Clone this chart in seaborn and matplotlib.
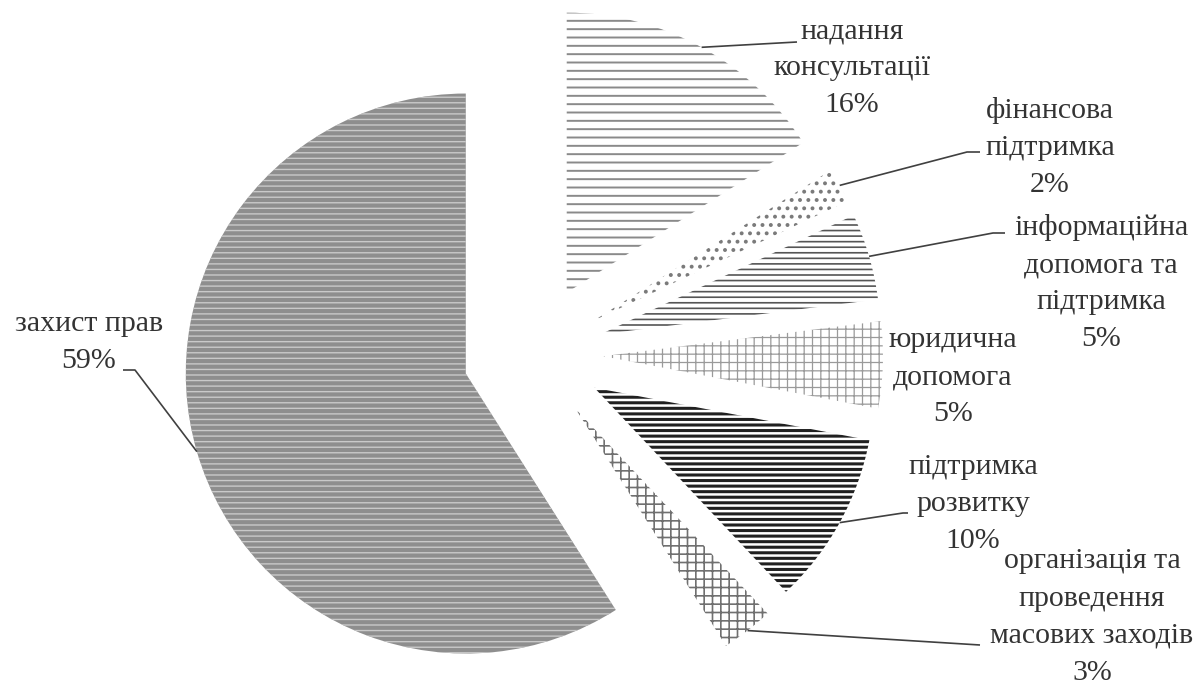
import matplotlib
matplotlib.use("Agg")
import matplotlib.pyplot as plt
import seaborn as sns
import numpy as np

# ---- data ----
categories = ["надання\nконсультації", "фінансова\nпідтримка",
              "інформаційна\nдопомога та\nпідтримка", "юридична\nдопомога",
              "підтримка\nрозвитку", "організація та\nпроведення\nмасових заходів",
              "захист прав"]
shares = [16, 2, 5, 5, 10, 3, 59]

# ---- styles ----
face_colors = ["white", "white", "white", "white", "white", "white", "#8e8e8e"]
hatch_colors = ["#8a8a8a", "#7a7a7a", "#555555", "#9a9a9a", "#202020", "#707070", "#c9c9c9"]
hatches = ["--", "..", "---", "++", "---", "++", "---"]
hatch_widths = [1.4, 1.6, 1.2, 0.9, 2.2, 1.2, 1.0]

# layout (pixels in a 1204x686 canvas)
W, H = 1204, 686
CX, CY, R = 533, 354, 280          # pie centre and radius in pixels
label_px = [(852, 68), (1050, 147), (1101, 283), (953, 377),
            (973, 504), (1092, 617), (89, 342)]
leader_px = [[(797, 42)],
             [(967, 152), (980, 152)],
             [(993, 233), (1005, 233)],
             None,
             [(903, 513), (908, 513)],
             [(980, 645)],
             [(135, 370), (123, 370)]]


def px2data(p):
    return ((p[0] - CX) / R, (CY - p[1]) / R)


sns.set_theme(style="white")
plt.rcParams["font.family"] = ["Liberation Serif", "DejaVu Serif"]
plt.rcParams["hatch.linewidth"] = 1.2

fig = plt.figure(figsize=(W / 100, H / 100), dpi=100)
ax = fig.add_axes([0, 0, 1, 1])

wedges, _ = ax.pie(shares, startangle=90, counterclock=False,
                   explode=[0.25] * len(shares), radius=1,
                   colors=face_colors,
                   wedgeprops=dict(linewidth=0))

for w, ec, hc, hw in zip(wedges, hatch_colors, hatches, hatch_widths):
    w.set_edgecolor(ec)
    w.set_hatch(hc)
    w.set_linewidth(0)
    if hasattr(w, "set_hatch_linewidth"):
        w.set_hatch_linewidth(hw)

text_color = "#333333"
for w, name, v, lp, lead in zip(wedges, categories, shares, label_px, leader_px):
    tx, ty = px2data(lp)
    ax.text(tx, ty, f"{name}\n{v}%", ha="center", va="center",
            multialignment="center", fontsize=21.5, color=text_color,
            linespacing=1.55)
    if lead is None:
        continue
    mid = np.deg2rad((w.theta1 + w.theta2) / 2)
    ax0 = w.center[0] + w.r * np.cos(mid)
    ay0 = w.center[1] + w.r * np.sin(mid)
    pts = [(ax0, ay0)] + [px2data(p) for p in lead]
    xs, ys = zip(*pts)
    ax.plot(xs, ys, color="#404040", lw=1.2, solid_capstyle="butt")

ax.set_xlim(-CX / R, (W - CX) / R)
ax.set_ylim(-(H - CY) / R, CY / R)
ax.set_aspect("auto")
ax.axis("off")

fig.savefig("out.png", dpi=100, facecolor="white")
